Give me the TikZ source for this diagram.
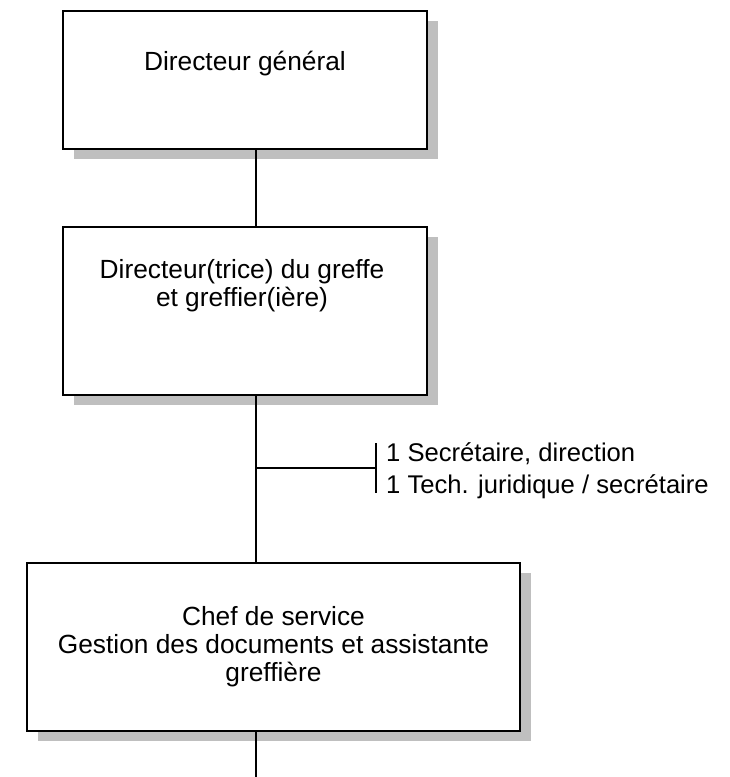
\documentclass[tikz,border=0pt]{standalone}
\usepackage{fontspec}
\setmainfont{Liberation Sans}
\usetikzlibrary{shadows}
\begin{document}
\begin{tikzpicture}[x=1pt,y=-1pt,
  orgbox/.style={draw=black,line width=1.6pt,fill=white,inner sep=0pt,
    drop shadow={shadow xshift=10.5pt,shadow yshift=-10pt,fill=black!25,opacity=1}},
  boxtext/.style={align=center,inner sep=0pt,font=\fontsize{26.3}{28}\selectfont},
  sidetext/.style={align=left,inner sep=0pt,anchor=west,font=\fontsize{25.6}{32}\selectfont},
  conn/.style={line width=1.6pt}]
\useasboundingbox (0,0) rectangle (730,777);
\fill[white] (0,0) rectangle (730,777);
\node[orgbox,minimum width=364pt,minimum height=138pt] (b1) at (245,80) {};
\node[orgbox,minimum width=364pt,minimum height=168pt] (b2) at (245,311) {};
\node[orgbox,minimum width=493pt,minimum height=168pt] (b3) at (273.5,647) {};
\node[boxtext] (t1) at (245,64) {Directeur général};
\node[boxtext] (t2) at (242,286) {Directeur(trice) du greffe\\et greffier(ière)};
\node[boxtext] (t3) at (273.5,647) {Chef de service\\Gestion des documents et assistante\\greffière};
\coordinate (spine) at (256,0);
\coordinate (fork) at (256,468);
\coordinate (brk) at (376,468);
\coordinate (brktop) at (376,443);
\coordinate (brkbot) at (376,493);
\coordinate (bottom) at (256,777);
\draw[conn] (b1.south -| spine) -- (b2.north -| spine);
\draw[conn] (b2.south -| spine) -- (b3.north -| spine);
\draw[conn] (fork) -- (brk);
\draw[conn] (brktop) -- (brkbot);
\draw[conn] (b3.south -| spine) -- (bottom);
\node[sidetext] (side) at (386,471) {1 Secrétaire, direction\\1 Tech. juridique / secrétaire};
\end{tikzpicture}
\end{document}
